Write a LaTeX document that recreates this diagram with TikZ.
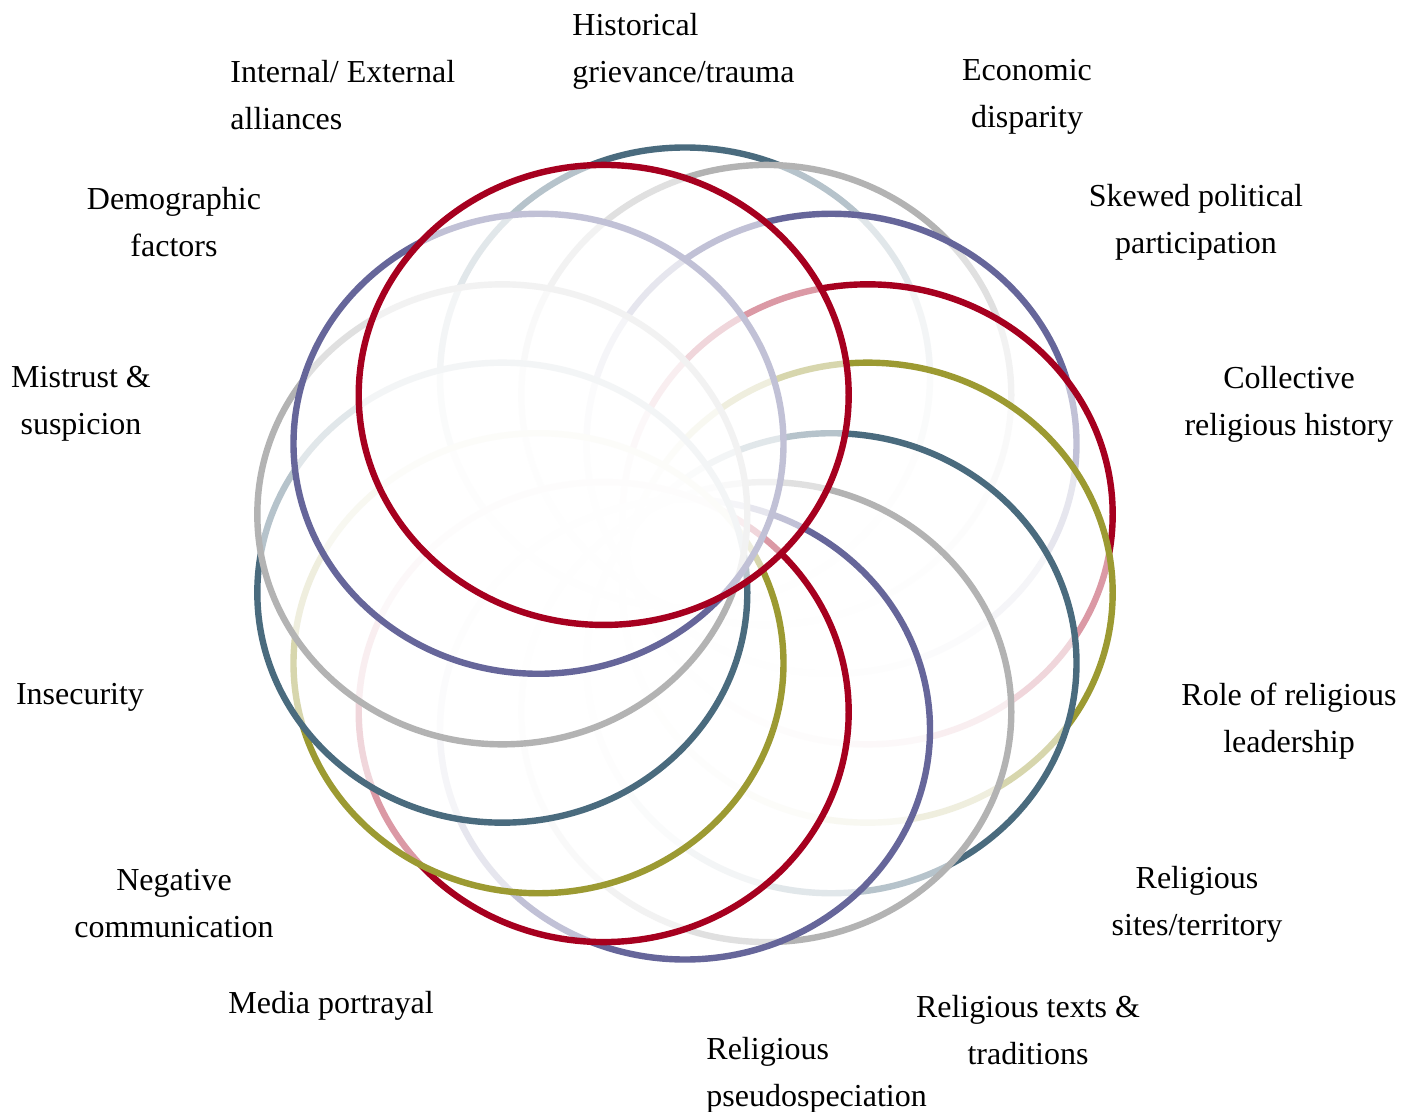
\documentclass[tikz,border=0pt]{standalone}
\usepackage{fontspec}
\setmainfont{Liberation Serif}
\definecolor{cteal}{HTML}{4A6B7E}
\definecolor{cgrey}{HTML}{B3B3B3}
\definecolor{cblue}{HTML}{66669A}
\definecolor{cred}{HTML}{A6001F}
\definecolor{colive}{HTML}{9C9A32}
\begin{document}
\begin{tikzpicture}[x=0.5pt,y=-0.5pt,line join=round,font=\fontsize{16}{23.5}\selectfont,
  lab/.style={align=center,inner sep=0pt},
  ring/.style={fill=white,fill opacity=0.6,line width=3.2pt}]
\useasboundingbox (0,0) rectangle (1413,1112);
\def\ox{685} \def\oy{553.5} \def\Rx{187.4} \def\Ry{176}
\def\rx{122.5pt} \def\ry{115pt}
\foreach \k/\col in {0/cteal,1/cgrey,2/cblue,3/cred,4/colive,5/cteal,6/cgrey,7/cblue,8/cred,9/colive,10/cteal,11/cgrey,12/cblue,13/cred}
\filldraw[ring,draw=\col] ({\ox+\Rx*cos(90-\k*360/14)},{\oy-\Ry*sin(90-\k*360/14)}) ellipse[x radius=\rx,y radius=\ry];
% labels
\node[lab,anchor=west,align=left] (hist) at (572,51) {Historical\\grievance/trauma};
\node[lab] (econ) at (1027,97) {Economic\\disparity};
\node[lab] (pol) at (1196,222) {Skewed political\\participation};
\node[lab] (coll) at (1289,404) {Collective\\religious history};
\node[lab] (lead) at (1289,721) {Role of religious\\leadership};
\node[lab] (site) at (1197,904) {Religious\\sites/territory};
\node[lab] (text) at (1028,1030) {Religious texts \&\\traditions};
\node[lab,anchor=west,align=left] (pseu) at (706,1075) {Religious\\pseudospeciation};
\node[lab] (media) at (331,1006) {Media portrayal};
\node[lab] (comm) at (174,904) {Negative\\communication};
\node[lab] (insec) at (80,697) {Insecurity};
\node[lab] (trust) at (81,404) {Mistrust \&\\suspicion};
\node[lab] (demo) at (174,222) {Demographic\\factors};
\node[lab,anchor=west,align=left] (alli) at (230,95) {Internal/ External\\alliances};
\end{tikzpicture}
\end{document}
